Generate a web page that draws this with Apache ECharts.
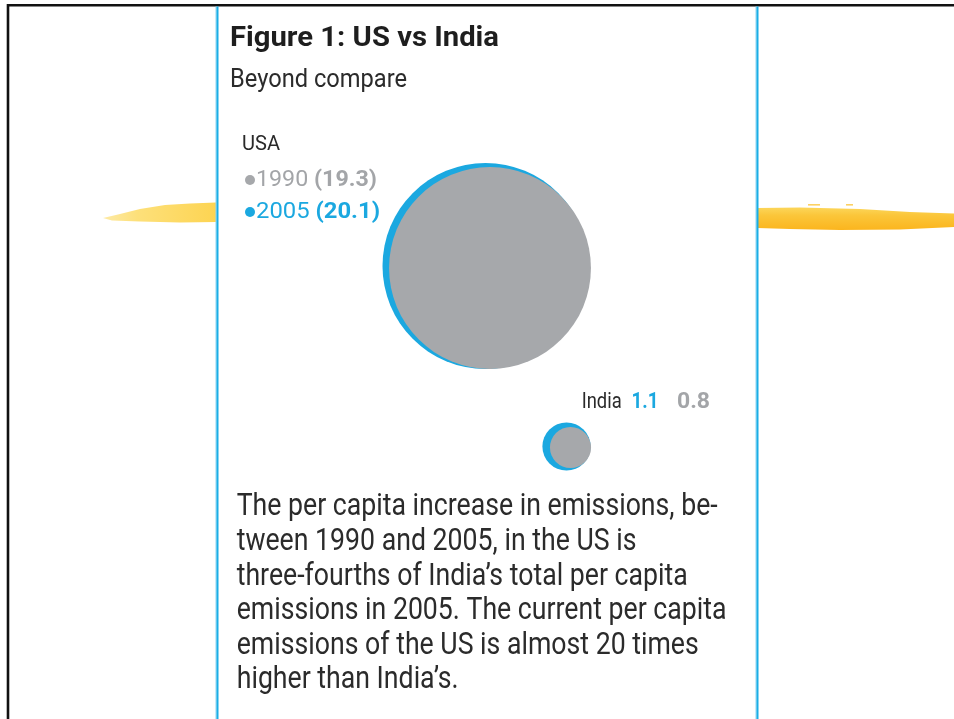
<!DOCTYPE html>
<html><head><meta charset="utf-8">
<script src="https://cdn.jsdelivr.net/npm/echarts@6/dist/echarts.min.js"></script>
<style>html,body{margin:0;padding:0;background:#fff}#c{width:954px;height:719px}</style>
</head><body><div id="c"></div>
<script>
// ---- data ----
const countries = ['USA', 'India'];
const years = ['1990', '2005'];
const emissions1990 = [19.3, 0.8];
const emissions2005 = [20.1, 1.1];
const titleText = 'Figure 1: US vs India';
const subtitleText = 'Beyond compare';
const noteLines = [
  'The per capita increase in emissions, be-',
  'tween 1990 and 2005, in the US is',
  'three-fourths of India\u2019s total per capita',
  'emissions in 2005. The current per capita',
  'emissions of the US is almost 20 times',
  'higher than India\u2019s.'
];

// ---- styles ----
const BLUE = '#1ba8e0';
const GRAY = '#a6a8ab';
const GRAY_TXT = '#a3a5a8';
const DARK = '#2a2a2a';
const FONT = 'Roboto';
const K = 45.95; // px per sqrt(unit)  (area-proportional bubbles)
const grayNudge = [[4.5, 2], [4, 1]];

const mctx = document.createElement('canvas').getContext('2d');
function tw(text, size, weight) {
  mctx.font = (weight || 'normal') + ' ' + size + 'px ' + FONT;
  return mctx.measureText(text).width;
}

const chart = echarts.init(document.getElementById('c'), null, {renderer: 'canvas'});

function txt(x, y, text, size, weight, fill, targetW, extra) {
  const s = targetW ? targetW / tw(text, size, weight) : 1;
  return Object.assign({
    type: 'text', x: x, y: y, scaleX: s, silent: true, z: 10,
    style: {text: text, fontFamily: FONT, fontSize: size, fontWeight: weight || 'normal',
      fill: fill, align: 'left', verticalAlign: 'middle'}
  }, extra || {});
}

const graphics = [];
// frame
graphics.push({type: 'rect', shape: {x: 7, y: 4, width: 947, height: 2.5}, style: {fill: '#111'}, silent: true});
graphics.push({type: 'rect', shape: {x: 6.7, y: 4, width: 2.6, height: 715}, style: {fill: '#111'}, silent: true});
// yellow strokes
graphics.push({type: 'polygon', silent: true, shape: {points: [
  [103, 218], [118, 214.5], [140, 209], [165, 205], [190, 203.5], [216, 202.5], [216, 222], [180, 222.5], [140, 221.5], [112, 220.5]
]}, style: {fill: {type: 'linear', x: 0, y: 0, x2: 1, y2: 0, colorStops: [
  {offset: 0, color: '#fdeaa6'}, {offset: 0.3, color: '#fde07a'}, {offset: 1, color: '#fdd452'}]}}});
graphics.push({type: 'polygon', silent: true, shape: {points: [
  [757.5, 208], [800, 207.5], [860, 209], [910, 212], [954, 213.5], [954, 227], [900, 229.5], [840, 230], [790, 229], [757.5, 228]
]}, style: {fill: {type: 'linear', x: 0, y: 0, x2: 0, y2: 1, colorStops: [
  {offset: 0, color: '#fcd65a'}, {offset: 0.35, color: '#fbc63a'}, {offset: 1, color: '#fbb51e'}]}}});
graphics.push({type: 'rect', silent: true, shape: {x: 808, y: 204, width: 12, height: 1.6}, style: {fill: '#fcd163'}});
graphics.push({type: 'rect', silent: true, shape: {x: 846, y: 204, width: 7, height: 1.6}, style: {fill: '#fcd163'}});
// panel borders
graphics.push({type: 'rect', shape: {x: 215.5, y: 6.5, width: 1.2, height: 713}, style: {fill: '#8fd6f3'}, silent: true});
graphics.push({type: 'rect', shape: {x: 216.5, y: 6.5, width: 2, height: 713}, style: {fill: '#1aaee6'}, silent: true});
graphics.push({type: 'rect', shape: {x: 755.5, y: 6.5, width: 1.2, height: 713}, style: {fill: '#8fd6f3'}, silent: true});
graphics.push({type: 'rect', shape: {x: 756.5, y: 6.5, width: 2, height: 713}, style: {fill: '#1aaee6'}, silent: true});

// titles
graphics.push(txt(230, 39, titleText, 27, 'bold', '#1e1e1e', 269));
graphics.push(txt(230, 80.5, subtitleText, 25, 'normal', '#2b2b2b', 177));

// USA legend
graphics.push(txt(242, 145, countries[0], 21, 'normal', DARK, 38));
const legendRows = [
  {y: 180, year: years[0], val: emissions1990[0], color: GRAY_TXT, dot: GRAY, w: 121},
  {y: 212, year: years[1], val: emissions2005[0], color: BLUE, dot: BLUE, w: 124}
];
legendRows.forEach(r => {
  graphics.push({type: 'circle', silent: true, shape: {cx: 250, cy: r.y, r: 5}, style: {fill: r.dot}});
  const valStr = '(' + r.val.toFixed(1) + ')';
  const w = tw(r.year + ' ', 22, 'normal') + tw(valStr, 22, 'bold');
  graphics.push({
    type: 'text', x: 256, y: r.y, scaleX: r.w / w, silent: true, z: 10,
    style: {text: '{a|' + r.year + '} {b|' + valStr + '}', fontFamily: FONT, fontSize: 22,
      fill: r.color, align: 'left', verticalAlign: 'middle',
      rich: {a: {fontFamily: FONT, fontSize: 22, fill: r.color},
             b: {fontFamily: FONT, fontSize: 22, fontWeight: 'bold', fill: r.color}}}
  });
});

// India label
const indS = 0.86;
graphics.push(txt(581.7, 402, countries[1], 22, 'normal', DARK, 40));
graphics.push(txt(631.5, 402, emissions2005[1].toFixed(1), 22, 'bold', BLUE, 27));
graphics.push(txt(677, 402, emissions1990[1].toFixed(1), 22, 'bold', GRAY_TXT, 33));

// paragraph
const paraSize = 31;
const paraScale = 481 / tw(noteLines[0], paraSize, 'normal');
const paraY = [507, 542, 577, 611.5, 646, 680.5];
noteLines.forEach((l, i) => {
  graphics.push(txt(236.7, paraY[i], l, paraSize, 'normal', '#2b2b2b', null, {scaleX: paraScale}));
});

const option = {
  animation: false,
  backgroundColor: '#ffffff',
  grid: {left: 445, width: 162, top: 175.75, height: 361},
  xAxis: {type: 'category', data: countries, show: false, boundaryGap: true},
  yAxis: {type: 'category', data: countries, inverse: true, show: false, boundaryGap: true},
  series: [
    {
      name: years[1], type: 'scatter', z: 2, silent: true,
      data: countries.map((c, i) => [c, c, emissions2005[i]]),
      symbolSize: v => K * Math.sqrt(v[2]),
      itemStyle: {color: BLUE, opacity: 1},
      emphasis: {disabled: true}
    },
    {
      name: years[0], type: 'scatter', z: 3, silent: true,
      data: countries.map((c, i) => ({value: [c, c, emissions1990[i]], symbolOffset: grayNudge[i]})),
      symbolSize: v => K * Math.sqrt(v[2]),
      itemStyle: {color: GRAY, opacity: 1},
      emphasis: {disabled: true}
    }
  ],
  graphic: {elements: graphics}
};
chart.setOption(option);
</script>
</body></html>
